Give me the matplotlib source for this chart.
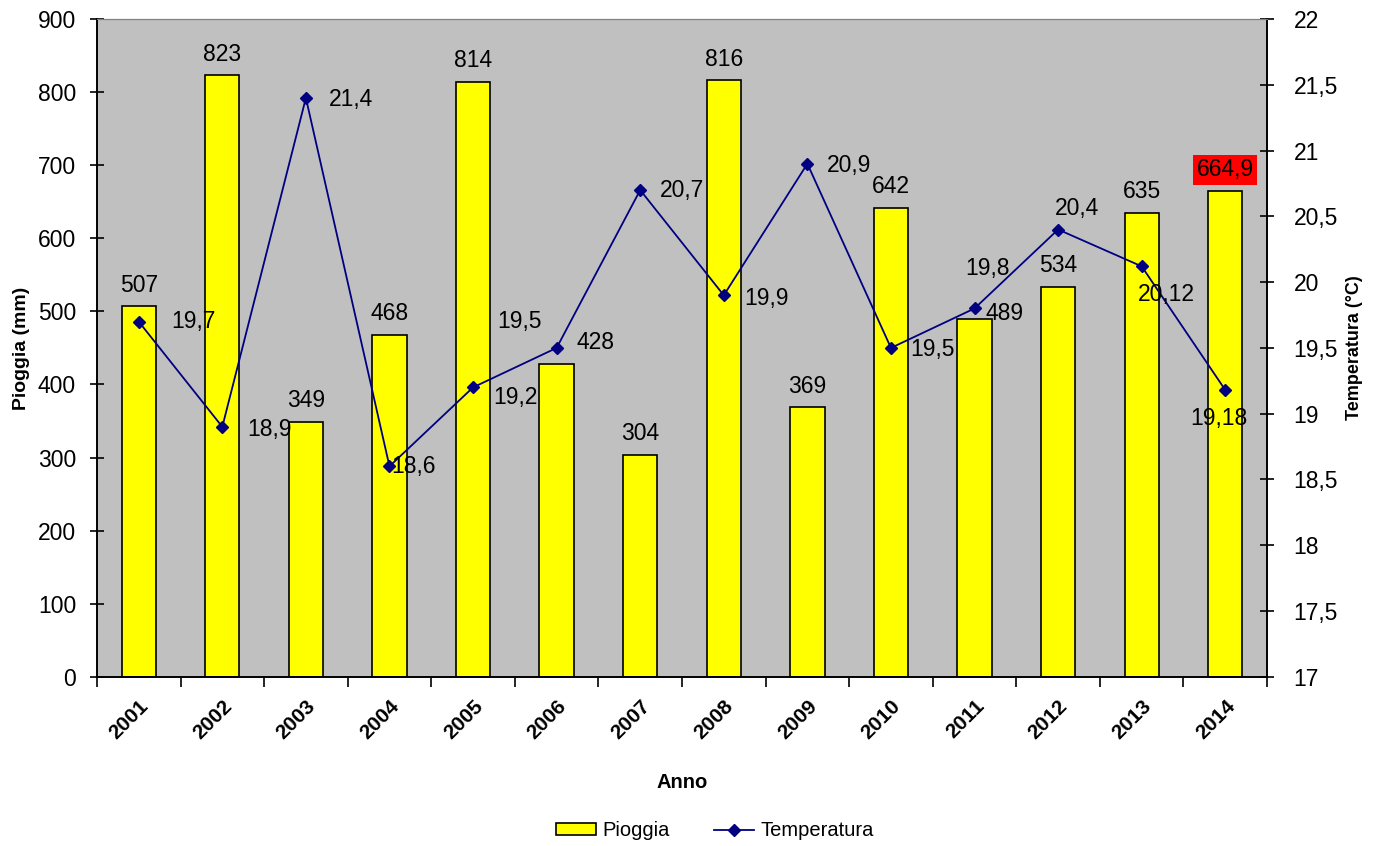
import matplotlib.pyplot as plt
from matplotlib.patches import Patch
from matplotlib.lines import Line2D

plt.rcParams['font.family'] = ['Liberation Sans', 'DejaVu Sans']

# dati
anni = ['2001', '2002', '2003', '2004', '2005', '2006', '2007',
        '2008', '2009', '2010', '2011', '2012', '2013', '2014']
pioggia = [507, 823, 349, 468, 814, 428, 304, 816, 369, 642, 489, 534, 635, 664.9]
temperatura = [19.7, 18.9, 21.4, 18.6, 19.2, 19.5, 20.7, 19.9, 20.9, 19.5, 19.8, 20.4, 20.12, 19.18]

# spostamenti delle etichette (pixel)
off_temp = [(55, 0), (47, -3), (45, -2), (24, 0), (42, -10), (-37, 26), (42, 0),
            (43, -3), (42, -2), (42, -2), (13, 40), (19, 21), (25, -28), (-6, -28)]
off_bar = [(0, 21)] * 14
off_bar[5] = (39, 21)
off_bar[10] = (30, 6)


def virgola(v):
    s = ('%g' % v)
    return s.replace('.', ',')


fig = plt.figure(figsize=(13.75, 8.46), dpi=100)
ax = fig.add_axes([0.0705, 0.2, 0.851, 0.7775])
ax.set_facecolor('#C0C0C0')
x = list(range(len(anni)))

ax.bar(x, pioggia, width=0.41, color='#FFFF00', edgecolor='black', linewidth=1.2, zorder=2)
ax.set_xlim(-0.5, len(anni) - 0.5)
ax.set_ylim(0, 900)
ax.set_yticks(range(0, 901, 100))
ax.set_xticks(x)
ax.set_xticklabels(anni, rotation=45, ha='right', rotation_mode='anchor',
                   fontweight='bold', fontsize=15)
ax.tick_params(axis='x', length=0, pad=14)
ax.set_xticks([i + 0.5 for i in range(-1, len(anni))], minor=True)
ax.tick_params(axis='x', which='minor', length=7, width=1.2, direction='out')
ax.tick_params(axis='y', labelsize=16.5, direction='inout', length=10, width=1.2, pad=10)
ax.set_ylabel('Pioggia (mm)', fontweight='bold', fontsize=14, labelpad=6)
ax.set_xlabel('Anno', fontweight='bold', fontsize=14.5, labelpad=22)

for i, v in enumerate(pioggia):
    dx, dy = off_bar[i]
    kw = {}
    if i == len(pioggia) - 1:
        kw['bbox'] = dict(boxstyle='square,pad=0.15', facecolor='#FF0000', edgecolor='none')
    ax.annotate(virgola(v), (i, v), xytext=(dx, dy), textcoords='offset pixels',
                ha='center', va='center', fontsize=16.5, zorder=5, **kw)

ax2 = ax.twinx()
ax2.plot(x, temperatura, color='#000080', marker='D', markersize=6, linewidth=1.3, zorder=3)
ax2.set_ylim(17, 22)
ax2.set_yticks([17 + 0.5 * k for k in range(11)])
ax2.set_yticklabels([virgola(17 + 0.5 * k) for k in range(11)])
ax2.tick_params(axis='y', labelsize=16.5, direction='inout', length=10, width=1.2, pad=14)
ax2.set_ylabel('Temperatura (°C)', fontweight='bold', fontsize=13, labelpad=6)

for i, t in enumerate(temperatura):
    dx, dy = off_temp[i]
    ax2.annotate(virgola(t), (i, t), xytext=(dx, dy), textcoords='offset pixels',
                 ha='center', va='center', fontsize=16.5)

for a in (ax, ax2):
    a.spines['top'].set_color('#808080')
    a.spines['left'].set_linewidth(1.2)
    a.spines['right'].set_linewidth(1.2)
    a.spines['bottom'].set_linewidth(1.2)

handles = [Patch(facecolor='#FFFF00', edgecolor='black', linewidth=1.2),
           Line2D([], [], color='#000080', marker='D', markersize=6, linewidth=1.3)]
fig.legend(handles, ['Pioggia', 'Temperatura'], loc='center', bbox_to_anchor=(0.52, 0.018),
           ncol=2, frameon=False, fontsize=14.5, handlelength=2.0, handleheight=0.5,
           handletextpad=0.3, columnspacing=2.2)

fig.savefig('out.png', dpi=100)
